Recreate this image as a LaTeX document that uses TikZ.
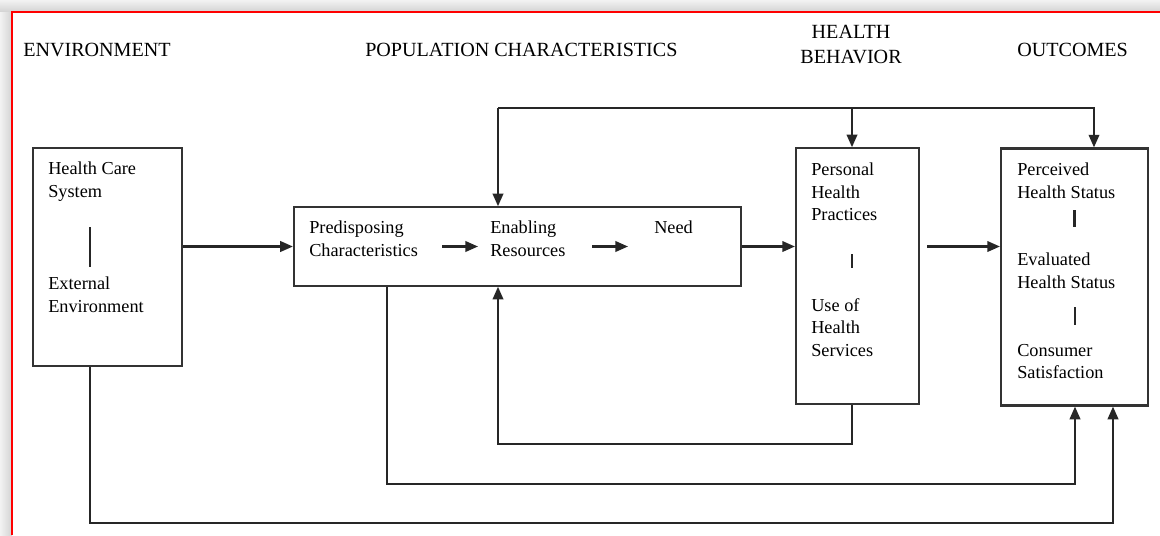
\documentclass[tikz,border=0pt]{standalone}
\usepackage{fontspec}
\setmainfont{Liberation Serif}
\newfontfamily\tnr{Liberation Serif}
\usepackage{xcolor}
\usepackage{tikz}
\usetikzlibrary{shapes,arrows.meta,positioning,calc}

\begin{document}
\begin{tikzpicture}[x=0.025cm, y=-0.025cm,
    box/.style={rectangle, draw=black!80, line width=1.5pt, inner sep=0pt},
    txt/.style={anchor=north west, inner sep=0pt, align=left, font=\tnr\fontsize{13}{16}\selectfont},
    head/.style={anchor=north west, inner sep=0pt, align=center, font=\tnr\fontsize{14.3}{17.7}\selectfont},
    arr/.style={draw=black!85, line width=1.5pt, -{Triangle[length=9pt,width=7.5pt]}},
    sep/.style={draw=black!85, line width=1.5pt}]

    % frame and shadow
    \useasboundingbox (0,0) rectangle (1160,535);
    \fill[white] (0,0) rectangle (1160,535);
    \shade[top color=gray!10, bottom color=gray!35] (0,0) rectangle (1160,12);
    \shade[left color=gray!10, right color=gray!35] (0,12) rectangle (12,535);
    \draw[red, line width=1.3pt] (12,535) -- (12,12) -- (1160,12);

    % column headings
    \node[head] (henv) at (23,43) {ENVIRONMENT};
    \node[head] (hpop) at (365,43) {POPULATION CHARACTERISTICS};
    \node[head, anchor=north] (hbeh) at (851,25) {HEALTH\\BEHAVIOR};
    \node[head] (hout) at (1017,43) {OUTCOMES};

    % boxes
    \node[box, minimum width=3.725cm, minimum height=5.45cm] (env) at (107.5,257) {};
    \node[box, minimum width=11.175cm, minimum height=1.96cm] (pop) at (517.5,246.5) {};
    \node[box, minimum width=3.075cm, minimum height=6.4cm] (beh) at (857.5,276.3) {};
    \node[box, minimum width=3.675cm, minimum height=6.425cm] (out) at (1074.5,277) {};

    % box texts
    \node[txt] (hcs) at (48,162) {Health Care\\System};
    \node[txt] (ext) at (48,277) {External\\Environment};
    \draw[sep] (90,227) -- (90,267);

    \node[txt] (pred) at (309,221) {Predisposing\\Characteristics};
    \node[txt] (enab) at (490,221) {Enabling\\Resources};
    \node[txt] (need) at (654,221) {Need};
    \draw[arr] (442,246.5) -- (478,246.5);
    \draw[arr] (592,246.5) -- (628,246.5);

    \node[txt] (php) at (811,163) {Personal\\Health\\Practices};
    \node[txt] (uhs) at (811,298) {Use of\\Health\\Services};
    \draw[sep] (852,254) -- (852,268);

    \node[txt] (phs) at (1017,163) {Perceived\\Health Status};
    \node[txt] (ehs) at (1017,253) {Evaluated\\Health Status};
    \node[txt] (csat) at (1017,344) {Consumer\\Satisfaction};
    \draw[sep] (1074.5,210) -- (1074.5,227);
    \draw[sep] (1075,307) -- (1075,325);

    % main flow
    \draw[arr] (env.east |- pop.west) -- (pop.west);
    \draw[arr] (pop.east) -- (pop.east -| beh.west);
    \draw[arr] ($(pop.east -| beh.east)+(7,0)$) -- (pop.east -| out.west);

    % feedback on top
    \coordinate (fb1) at (498,108);
    \coordinate (fb2) at (852,108);
    \coordinate (fb3) at (1094,108);
    \draw[arr] (fb1) -- (fb1 |- pop.north);
    \draw[arr] (fb2) -- (fb2 |- beh.north);
    \draw[arr] (fb1) -- (fb3) -- (fb3 |- out.north);

    % feedback below
    \coordinate (lp1) at (852,444);
    \coordinate (lp1e) at (498,444);
    \draw[arr] (lp1 |- beh.south) -- (lp1) -- (lp1e) -- (lp1e |- pop.south);

    \coordinate (lp2) at (387,484);
    \coordinate (lp2e) at (1075,484);
    \draw[arr] (lp2 |- pop.south) -- (lp2) -- (lp2e) -- (lp2e |- out.south);

    \coordinate (lp3) at (90,523);
    \coordinate (lp3e) at (1113,523);
    \draw[arr] (lp3 |- env.south) -- (lp3) -- (lp3e) -- (lp3e |- out.south);

\end{tikzpicture}
\end{document}
